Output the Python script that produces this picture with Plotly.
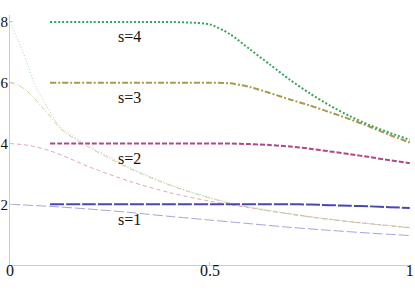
import plotly.graph_objects as go

# ---- data ----
thin_x_s1 = [0.0, 0.1, 0.2, 0.3, 0.4, 0.5, 0.6, 0.7, 0.8, 0.9, 1.0]
thin_y_s1 = [2.0, 1.93, 1.84, 1.73, 1.6, 1.48, 1.36, 1.24, 1.14, 1.05, 0.97]

thin_x_s2 = [0.0, 0.05, 0.1, 0.15, 0.2, 0.3, 0.4, 0.5, 0.6, 0.7, 0.8, 0.9, 1.0]
thin_y_s2 = [4.0, 3.93, 3.76, 3.5, 3.22, 2.75, 2.38, 2.1, 1.88, 1.68, 1.5, 1.36, 1.23]

thin_x_s3 = [0.0, 0.02, 0.04, 0.06, 0.08, 0.1, 0.125, 0.15, 0.175, 0.2, 0.25, 0.3, 0.375, 0.45, 0.55, 0.65, 0.75, 0.85, 1.0]
thin_y_s3 = [6.0, 5.93, 5.75, 5.5, 5.2, 4.9, 4.5, 4.25, 4.05, 3.85, 3.5, 3.17, 2.75, 2.4, 2.03, 1.78, 1.58, 1.42, 1.22]

thin_x_s4 = [0.0, 0.02, 0.04, 0.06, 0.08, 0.1, 0.125, 0.15, 0.175, 0.2, 0.25, 0.3, 0.375, 0.45, 0.55, 0.65, 0.75, 0.85, 1.0]
thin_y_s4 = [8.0, 7.4, 6.75, 6.0, 5.5, 5.05, 4.55, 4.3, 4.1, 3.9, 3.55, 3.2, 2.78, 2.42, 2.05, 1.8, 1.6, 1.43, 1.24]

thick_x = [0.1, 0.2, 0.3, 0.4, 0.45, 0.5, 0.55, 0.6, 0.65, 0.7, 0.75, 0.8, 0.85, 0.9, 0.95, 1.0]
thick_y_s1 = [2.0, 2.0, 2.0, 2.0, 2.0, 2.0, 2.0, 2.0, 2.0, 2.0, 1.99, 1.97, 1.95, 1.93, 1.9, 1.88]
thick_y_s2 = [4.0, 4.0, 4.0, 4.0, 4.0, 4.0, 4.0, 3.98, 3.95, 3.9, 3.83, 3.74, 3.65, 3.55, 3.45, 3.35]
thick_y_s3 = [6.0, 6.0, 6.0, 6.0, 6.0, 6.0, 5.98, 5.86, 5.66, 5.45, 5.25, 5.03, 4.8, 4.55, 4.28, 4.03]
thick_y_s4 = [8.0, 8.0, 8.0, 8.0, 7.98, 7.92, 7.6, 7.1, 6.6, 6.1, 5.65, 5.25, 4.9, 4.6, 4.35, 4.12]

labels = ["s=1", "s=2", "s=3", "s=4"]
label_x = [0.3, 0.3, 0.3, 0.3]
label_y = [1.51, 3.52, 5.5, 7.52]

x_ticks = [0, 0.5, 1]
x_tick_text = ["0", "0.5", "1"]
y_ticks = [2, 4, 6, 8]
y_tick_text = ["2", "4", "6", "8"]

# ---- styles ----
SERIF = "Liberation Serif, Times New Roman, serif"
TEXT = "#111111"
thin_styles = [
    ("#a4a4e0", "10px,3px"),
    ("#e6a2c6", "4px,3px"),
    ("#d6cc98", "5px,2px,1px,2px"),
    ("#a2dab4", "1px,2px"),
]
thick_styles = [
    ("#4848b4", "14px,2px"),
    ("#b04888", "5px,2px"),
    ("#a99a50", "6px,2px,2px,2px"),
    ("#36a65a", "2px,2px"),
]

fig = go.Figure()
thin_sets = [(thin_x_s1, thin_y_s1), (thin_x_s2, thin_y_s2), (thin_x_s3, thin_y_s3), (thin_x_s4, thin_y_s4)]
for (xs, ys), (c, d) in zip(thin_sets, thin_styles):
    fig.add_trace(go.Scatter(x=xs, y=ys, mode="lines",
                             line=dict(color=c, width=1, dash=d, shape="spline", smoothing=0.8),
                             hoverinfo="skip", showlegend=False))
for ys, (c, d) in zip([thick_y_s1, thick_y_s2, thick_y_s3, thick_y_s4], thick_styles):
    fig.add_trace(go.Scatter(x=thick_x, y=ys, mode="lines",
                             line=dict(color=c, width=2, dash=d, shape="spline", smoothing=0.8),
                             hoverinfo="skip", showlegend=False))

for t, lx, ly in zip(labels, label_x, label_y):
    fig.add_annotation(x=lx, y=ly, text=t, showarrow=False,
                       font=dict(family=SERIF, size=16, color=TEXT))

fig.update_layout(
    width=415, height=297,
    margin=dict(l=10, r=5, t=15, b=32),
    paper_bgcolor="white", plot_bgcolor="white",
    font=dict(family=SERIF, size=16, color=TEXT),
)
fig.update_xaxes(range=[0, 1.0005], tickvals=x_ticks, ticktext=x_tick_text,
                 showgrid=False, zeroline=False, showline=True, linecolor="#cccccc", linewidth=1,
                 ticks="inside", ticklen=3, tickcolor="#cccccc", automargin=False,
                 tickfont=dict(family=SERIF, size=16, color=TEXT),
                 ticklabelstandoff=-9)
fig.update_yaxes(range=[0, 8.23], tickvals=y_ticks, ticktext=y_tick_text,
                 showgrid=False, zeroline=False, showline=True, linecolor="#cccccc", linewidth=1,
                 ticks="inside", ticklen=3, tickcolor="#cccccc", automargin=False,
                 tickfont=dict(family=SERIF, size=15, color=TEXT),
                 ticklabelstandoff=-2)

fig.write_html("out.html", config={"displayModeBar": False},
               post_script="document.body.style.margin='0';")
